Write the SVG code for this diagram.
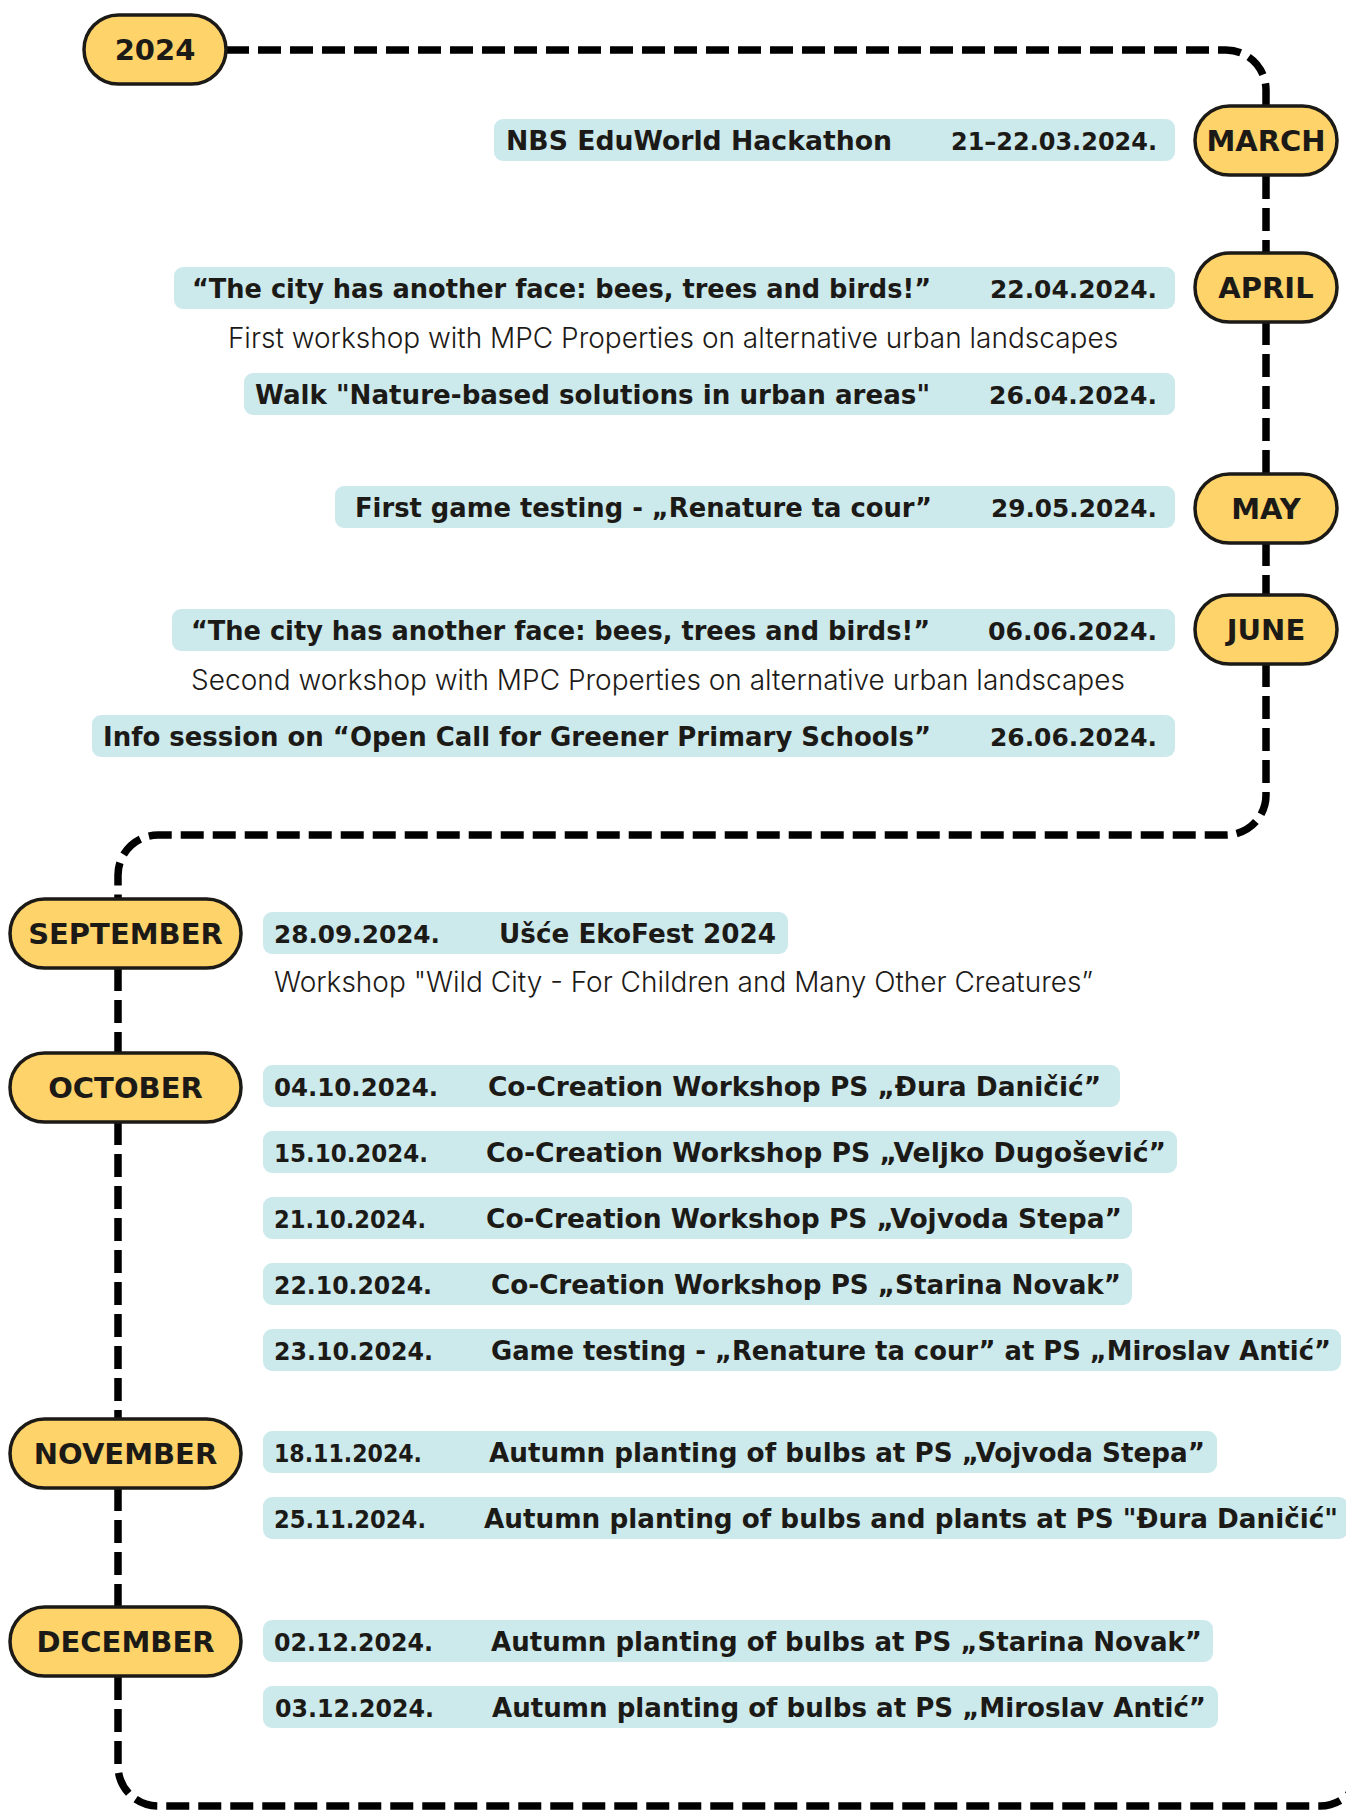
<svg xmlns="http://www.w3.org/2000/svg" width="1346" height="1812" viewBox="0 0 1346 1812">
<style>
.pill{fill:#FED36A;stroke:#1c1a17;stroke-width:3.5}
.bar{fill:#CCE9EC}
.pt{font-family:"DejaVu Sans",sans-serif;font-weight:bold;font-size:29px;fill:#1c1a17;text-anchor:middle}
.et{font-family:"DejaVu Sans",sans-serif;font-weight:bold;font-size:26px;fill:#1c1a17}
.dl{font-family:"DejaVu Sans",sans-serif;font-weight:bold;font-size:25px;fill:#1c1a17}
.dt{font-family:"DejaVu Sans",sans-serif;font-weight:bold;font-size:25px;fill:#1c1a17;text-anchor:end}
.sub{font-family:Inter,"Noto Sans",sans-serif;font-weight:300;font-size:28px;fill:#1c1a17}
.ln{fill:none;stroke:#000;stroke-width:7.5;stroke-dasharray:23 9}
</style>
<rect width="1346" height="1812" fill="#ffffff"/>
<g id="connectors">
<path class="ln" d="M226 50 H1226 A40 40 0 0 1 1266 90 V106"/>
<path class="ln" d="M1266 176 V253"/>
<path class="ln" d="M1266 322 V474"/>
<path class="ln" d="M1266 543 V595"/>
<path class="ln" d="M1266 664 V795 A40 40 0 0 1 1226 835 H158 A40 40 0 0 0 118 875 V899"/>
<path class="ln" d="M118 968 V1053"/>
<path class="ln" d="M118 1122 V1419"/>
<path class="ln" d="M118 1488 V1607"/>
<path class="ln" d="M118 1677 V1766 A40 40 0 0 0 158 1806 H1320 A40 40 0 0 0 1360 1766"/>
</g>
<g id="year-2024"><rect class="pill" x="84" y="15" width="142" height="69" rx="34.5"/><text class="pt" x="155" y="60">2024</text></g>
<g id="month-march"><rect class="pill" x="1195" y="106" width="142" height="69" rx="34.5"/><text class="pt" x="1266" y="151">MARCH</text></g>
<g id="month-april"><rect class="pill" x="1195" y="253" width="142" height="69" rx="34.5"/><text class="pt" x="1266" y="298">APRIL</text></g>
<g id="month-may"><rect class="pill" x="1195" y="474" width="142" height="69" rx="34.5"/><text class="pt" x="1266" y="519">MAY</text></g>
<g id="month-june"><rect class="pill" x="1195" y="595" width="142" height="69" rx="34.5"/><text class="pt" x="1266" y="640">JUNE</text></g>
<g id="month-september"><rect class="pill" x="10" y="899" width="231" height="69" rx="34.5"/><text class="pt" x="125.5" y="944">SEPTEMBER</text></g>
<g id="month-october"><rect class="pill" x="10" y="1053" width="231" height="69" rx="34.5"/><text class="pt" x="125.5" y="1098">OCTOBER</text></g>
<g id="month-november"><rect class="pill" x="10" y="1419" width="231" height="69" rx="34.5"/><text class="pt" x="125.5" y="1464">NOVEMBER</text></g>
<g id="month-december"><rect class="pill" x="10" y="1607" width="231" height="69" rx="34.5"/><text class="pt" x="125.5" y="1652">DECEMBER</text></g>

<g id="ev-nbs"><rect class="bar" x="494" y="119" width="681" height="42" rx="9"/><text class="et" x="506" y="149.5" textLength="386" lengthAdjust="spacingAndGlyphs">NBS EduWorld Hackathon</text><text class="dt" x="1157" y="149.5" textLength="206" lengthAdjust="spacingAndGlyphs">21–22.03.2024.</text></g>
<g id="ev-city-april"><rect class="bar" x="174" y="267" width="1001" height="42" rx="9"/><text class="et" x="192" y="297.5" textLength="739" lengthAdjust="spacingAndGlyphs">“The city has another face: bees, trees and birds!”</text><text class="dt" x="1157" y="297.5" textLength="167" lengthAdjust="spacingAndGlyphs">22.04.2024.</text></g>
<text class="sub" x="673" y="348" text-anchor="middle">First workshop with MPC Properties on alternative urban landscapes</text>
<g id="ev-walk"><rect class="bar" x="244" y="373" width="931" height="42" rx="9"/><text class="et" x="255" y="403.5" textLength="675" lengthAdjust="spacingAndGlyphs">Walk "Nature-based solutions in urban areas"</text><text class="dt" x="1157" y="403.5" textLength="168" lengthAdjust="spacingAndGlyphs">26.04.2024.</text></g>
<g id="ev-game-may"><rect class="bar" x="335" y="486" width="840" height="42" rx="9"/><text class="et" x="355" y="516.5" textLength="577" lengthAdjust="spacingAndGlyphs">First game testing - „Renature ta cour”</text><text class="dt" x="1157" y="516.5" textLength="166" lengthAdjust="spacingAndGlyphs">29.05.2024.</text></g>
<g id="ev-city-june"><rect class="bar" x="172" y="609" width="1003" height="42" rx="9"/><text class="et" x="191" y="639.5" textLength="739" lengthAdjust="spacingAndGlyphs">“The city has another face: bees, trees and birds!”</text><text class="dt" x="1157" y="639.5" textLength="169" lengthAdjust="spacingAndGlyphs">06.06.2024.</text></g>
<text class="sub" x="658" y="690" text-anchor="middle">Second workshop with MPC Properties on alternative urban landscapes</text>
<g id="ev-info"><rect class="bar" x="92" y="715" width="1083" height="42" rx="9"/><text class="et" x="103" y="745.5" textLength="828" lengthAdjust="spacingAndGlyphs">Info session on “Open Call for Greener Primary Schools”</text><text class="dt" x="1157" y="745.5" textLength="167" lengthAdjust="spacingAndGlyphs">26.06.2024.</text></g>

<g id="ev-ekofest"><rect class="bar" x="263" y="912" width="525" height="42" rx="9"/><text class="dl" x="274" y="942.5" textLength="166" lengthAdjust="spacingAndGlyphs">28.09.2024.</text><text class="et" x="499" y="942.5" textLength="277" lengthAdjust="spacingAndGlyphs">Ušće EkoFest 2024</text></g>
<text class="sub" x="274" y="992">Workshop "Wild City - For Children and Many Other Creatures”</text>
<g id="ev-0410"><rect class="bar" x="263" y="1065" width="857" height="42" rx="9"/><text class="dl" x="274" y="1095.5" textLength="164" lengthAdjust="spacingAndGlyphs">04.10.2024.</text><text class="et" x="488" y="1095.5" textLength="613" lengthAdjust="spacingAndGlyphs">Co-Creation Workshop PS „Đura Daničić”</text></g>
<g id="ev-1510"><rect class="bar" x="263" y="1131" width="914" height="42" rx="9"/><text class="dl" x="274" y="1161.5" textLength="154" lengthAdjust="spacingAndGlyphs">15.10.2024.</text><text class="et" x="486" y="1161.5" textLength="680" lengthAdjust="spacingAndGlyphs">Co-Creation Workshop PS „Veljko Dugošević”</text></g>
<g id="ev-2110"><rect class="bar" x="263" y="1197" width="869" height="42" rx="9"/><text class="dl" x="274" y="1227.5" textLength="152" lengthAdjust="spacingAndGlyphs">21.10.2024.</text><text class="et" x="486" y="1227.5" textLength="636" lengthAdjust="spacingAndGlyphs">Co-Creation Workshop PS „Vojvoda Stepa”</text></g>
<g id="ev-2210"><rect class="bar" x="263" y="1263" width="869" height="42" rx="9"/><text class="dl" x="274" y="1293.5" textLength="158" lengthAdjust="spacingAndGlyphs">22.10.2024.</text><text class="et" x="491" y="1293.5" textLength="630" lengthAdjust="spacingAndGlyphs">Co-Creation Workshop PS „Starina Novak”</text></g>
<g id="ev-2310"><rect class="bar" x="263" y="1329" width="1078" height="42" rx="9"/><text class="dl" x="274" y="1359.5" textLength="159" lengthAdjust="spacingAndGlyphs">23.10.2024.</text><text class="et" x="491" y="1359.5" textLength="840" lengthAdjust="spacingAndGlyphs">Game testing - „Renature ta cour” at PS „Miroslav Antić”</text></g>
<g id="ev-1811"><rect class="bar" x="263" y="1431" width="954" height="42" rx="9"/><text class="dl" x="274" y="1461.5" textLength="148" lengthAdjust="spacingAndGlyphs">18.11.2024.</text><text class="et" x="489" y="1461.5" textLength="716" lengthAdjust="spacingAndGlyphs">Autumn planting of bulbs at PS „Vojvoda Stepa”</text></g>
<g id="ev-2511"><rect class="bar" x="263" y="1497" width="1085" height="42" rx="9"/><text class="dl" x="274" y="1527.5" textLength="152" lengthAdjust="spacingAndGlyphs">25.11.2024.</text><text class="et" x="484" y="1527.5" textLength="854" lengthAdjust="spacingAndGlyphs">Autumn planting of bulbs and plants at PS "Đura Daničić"</text></g>
<g id="ev-0212"><rect class="bar" x="263" y="1620" width="950" height="42" rx="9"/><text class="dl" x="274" y="1650.5" textLength="159" lengthAdjust="spacingAndGlyphs">02.12.2024.</text><text class="et" x="491" y="1650.5" textLength="711" lengthAdjust="spacingAndGlyphs">Autumn planting of bulbs at PS „Starina Novak”</text></g>
<g id="ev-0312"><rect class="bar" x="263" y="1686" width="955" height="42" rx="9"/><text class="dl" x="275" y="1716.5" textLength="159" lengthAdjust="spacingAndGlyphs">03.12.2024.</text><text class="et" x="492" y="1716.5" textLength="714" lengthAdjust="spacingAndGlyphs">Autumn planting of bulbs at PS „Miroslav Antić”</text></g>
</svg>
